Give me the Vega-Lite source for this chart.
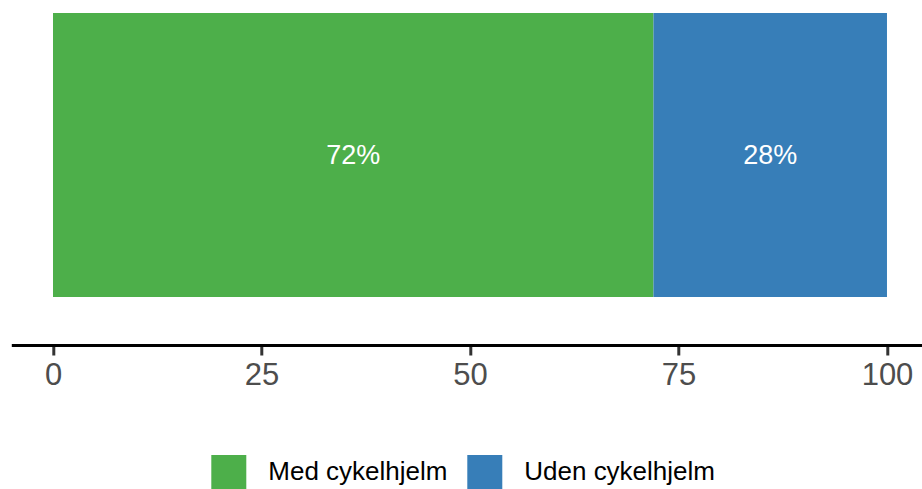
{
  "$schema": "https://vega.github.io/schema/vega-lite/v6.json",
  "autosize": {"type": "none"},
  "padding": {"left": 11.3, "top": 13, "right": 0, "bottom": 144},
  "width": 917.4,
  "height": 332,
  "background": "white",
  "config": {
    "view": {"stroke": null},
    "font": "Liberation Sans"
  },
  "data": {
    "values": [
      {"grp": "a", "label": "Med cykelhjelm", "pct": 72, "txt": "72%"},
      {"grp": "a", "label": "Uden cykelhjelm", "pct": 28, "txt": "28%"}
    ]
  },
  "transform": [
    {"stack": "pct", "groupby": ["grp"], "sort": [{"field": "label", "order": "ascending"}], "as": ["x0", "x1"]}
  ],
  "encoding": {
    "y": {
      "field": "grp",
      "type": "nominal",
      "axis": null,
      "scale": {"paddingInner": 0, "paddingOuter": 0.0845, "align": 0}
    }
  },
  "layer": [
    {
      "mark": {"type": "bar", "strokeWidth": 0},
      "encoding": {
        "x": {
          "field": "x0",
          "type": "quantitative",
          "scale": {"domain": [-5, 105], "nice": false, "zero": false},
          "axis": {
            "title": null,
            "values": [0, 25, 50, 75, 100],
            "grid": false,
            "domainColor": "black",
            "domainWidth": 3,
            "tickColor": "#333333",
            "tickWidth": 3,
            "tickSize": 10,
            "labelFontSize": 31,
            "labelColor": "#4d4d4d",
            "labelPadding": 6
          }
        },
        "x2": {"field": "x1"},
        "color": {
          "field": "label",
          "type": "nominal",
          "scale": {"domain": ["Med cykelhjelm", "Uden cykelhjelm"], "range": ["#4daf4a", "#377eb8"]},
          "legend": {
            "title": null,
            "orient": "none",
            "legendX": 200,
            "legendY": 442,
            "direction": "horizontal",
            "padding": 0,
            "symbolType": "square",
            "symbolSize": 1225,
            "symbolStrokeWidth": 0,
            "symbolOpacity": 1,
            "labelFontSize": 26,
            "labelLimit": 0,
            "labelColor": "black",
            "labelOffset": 22,
            "columnPadding": 19
          }
        }
      }
    },
    {
      "transform": [
        {"fold": ["x0", "x1"], "as": ["edge", "pos"]}
      ],
      "mark": {"type": "text", "color": "white", "fontSize": 27, "baseline": "middle", "align": "center", "dy": 1},
      "encoding": {
        "x": {"aggregate": "mean", "field": "pos", "type": "quantitative"},
        "text": {"field": "txt", "type": "nominal"}
      }
    }
  ]
}
